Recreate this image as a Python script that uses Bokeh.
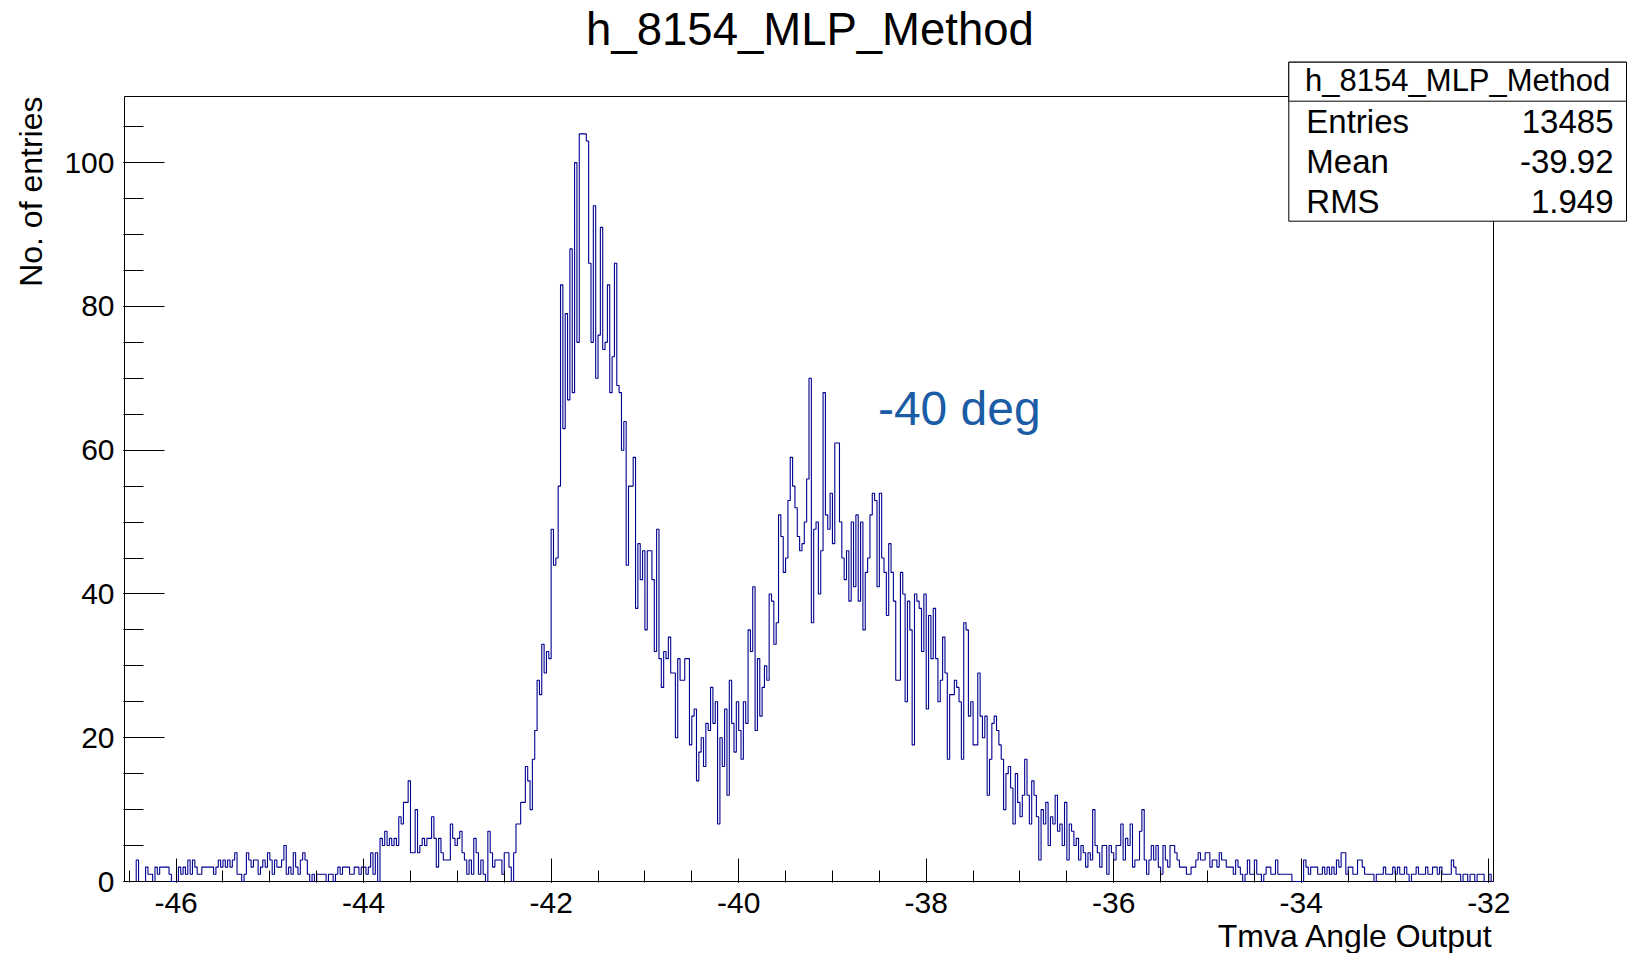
import math
import numpy as np
from bokeh.plotting import figure
from bokeh.models import (Label, BoxAnnotation, FixedTicker, Range1d, Title,
                          CustomJSTickFormatter)
from bokeh.embed import file_html
from bokeh.resources import INLINE

# ---------------- data ----------------
hist_title = "h_8154_MLP_Method"
x_label = "Tmva Angle Output"
y_label = "No. of entries"
note_text = "-40 deg"
stat_names = ["Entries", "Mean", "RMS"]
stat_values = ["13485", "-39.92", "1.949"]
x_major_ticks = [-46, -44, -42, -40, -38, -36, -34, -32]
y_major_ticks = [0, 20, 40, 60, 80, 100]

x_first_edge = -46.55
bin_width = 0.025

# counts per bin, grouped by x interval
counts_head = [0, 0, 0, 0, 0, 3, 0, 0, 0, 2, 1, 1, 0, 2, 1, 2, 2, 2, 2, 1, 0, 0]          # -46.55 .. -46
counts_m46 = [0, 2, 1, 2, 1, 3, 1, 3, 2, 1, 1, 2, 2, 2, 2, 2, 1, 2, 3, 2,
              3, 2, 3, 2, 3, 4, 1, 1, 0, 1, 4, 3, 2, 3, 3, 1, 2, 3, 2, 4]
counts_m45 = [3, 1, 3, 2, 2, 3, 5, 1, 2, 1, 4, 2, 1, 3, 4, 3, 1, 0, 1, 0,
              1, 1, 1, 1, 0, 1, 1, 0, 1, 2, 1, 2, 2, 2, 1, 1, 2, 2, 1, 2]
counts_m44 = [2, 1, 2, 4, 1, 4, 0, 6, 5, 7, 5, 6, 5, 6, 5, 9, 8, 11, 11, 14,
              4, 4, 10, 4, 5, 6, 5, 6, 6, 9, 6, 2, 6, 4, 3, 3, 3, 8, 6, 5]
counts_m43 = [6, 7, 4, 3, 1, 3, 1, 6, 4, 1, 3, 1, 0, 7, 4, 2, 3, 3, 3, 1,
              4, 4, 2, 0, 4, 8, 8, 11, 11, 16, 14, 10, 17, 21, 28, 26, 33, 29, 32, 31]
counts_m42 = [49, 44, 45, 55, 83, 63, 79, 67, 88, 68, 100, 75, 104, 104, 104, 103, 86, 75, 94, 70,
              76, 91, 74, 75, 83, 68, 73, 86, 69, 68, 60, 64, 44, 55, 55, 59, 38, 47, 42, 46]
counts_m41 = [35, 46, 46, 42, 32, 49, 31, 27, 32, 31, 34, 29, 29, 20, 31, 28, 28, 31, 31, 19,
              23, 24, 14, 18, 20, 16, 22, 21, 27, 22, 25, 8, 20, 16, 24, 12, 28, 22, 18, 25]
counts_m40 = [21, 17, 25, 22, 35, 32, 41, 21, 31, 23, 27, 30, 28, 40, 39, 33, 36, 51, 48, 43,
              45, 53, 59, 55, 52, 48, 46, 47, 50, 56, 70, 36, 49, 50, 40, 46, 68, 51, 49, 54]
counts_m39 = [47, 61, 61, 50, 45, 42, 46, 39, 50, 41, 51, 39, 50, 35, 43, 45, 51, 54, 53, 41,
              54, 45, 43, 37, 47, 43, 39, 28, 28, 43, 40, 25, 39, 35, 19, 40, 39, 38, 32, 40]
counts_m38 = [24, 37, 31, 38, 31, 25, 28, 34, 29, 17, 26, 26, 28, 27, 25, 17, 36, 35, 23, 25,
              19, 19, 29, 23, 20, 23, 12, 17, 22, 23, 21, 19, 17, 10, 15, 16, 13, 8, 15, 11]
counts_m37 = [9, 12, 17, 12, 8, 14, 12, 9, 3, 10, 8, 11, 5, 9, 8, 12, 7, 8, 5, 11,
              3, 8, 7, 5, 6, 3, 5, 4, 2, 4, 3, 10, 5, 4, 2, 5, 5, 1, 5, 4]
counts_m36 = [3, 5, 5, 8, 3, 6, 5, 8, 2, 3, 3, 7, 10, 3, 1, 3, 5, 3, 5, 2,
              1, 5, 3, 2, 5, 5, 4, 3, 2, 2, 2, 1, 1, 2, 2, 3, 4, 3, 3, 4]
counts_m35 = [4, 2, 3, 3, 2, 4, 3, 3, 2, 2, 2, 1, 3, 2, 1, 0, 1, 3, 1, 1,
              3, 1, 1, 0, 1, 2, 2, 1, 1, 3, 1, 1, 1, 1, 1, 1, 0, 0, 0, 0]
counts_m34 = [0, 3, 2, 1, 2, 2, 2, 1, 1, 2, 1, 2, 1, 2, 1, 3, 2, 4, 4, 1,
              2, 2, 1, 1, 3, 3, 2, 1, 1, 1, 1, 0, 1, 1, 1, 2, 1, 1, 1, 2]
counts_m33 = [1, 2, 1, 1, 2, 1, 0, 1, 1, 2, 1, 1, 1, 2, 1, 1, 2, 2, 1, 2,
              1, 1, 1, 1, 3, 2, 1, 1, 0, 1, 1, 0, 1, 1, 0, 1, 1, 1, 0, 0]
counts_tail = [1, 0]                                                                        # -32 .. -31.95

counts = np.array(counts_head + counts_m46 + counts_m45 + counts_m44 + counts_m43 + counts_m42 +
                  counts_m41 + counts_m40 + counts_m39 + counts_m38 + counts_m37 + counts_m36 +
                  counts_m35 + counts_m34 + counts_m33 + counts_tail, dtype=float)
edges = x_first_edge + bin_width * np.arange(len(counts) + 1)
x_lo, x_hi = edges[0], edges[-1]
y_hi = 1.05 * counts.max()

# ---------------- layout (page pixels) ----------------
W, H = 1632, 953
BOX_L, BOX_R, BOX_T, BOX_B = 124, 1493, 96, 881        # visible axes box
FR_L, FR_B = BOX_L - 1, BOX_B + 1                       # bokeh frame: left, bottom (frame spans to top/right edge)
px_x = (BOX_R - BOX_L) / (x_hi - x_lo)
px_y = (BOX_B - BOX_T) / y_hi
x_start = x_lo - (BOX_L - FR_L) / px_x
y_start = -(FR_B - BOX_B) / px_y
frame_w, frame_h = W - FR_L, FR_B

FONT = "Liberation Sans"
LINE = "#00008f"

p = figure(frame_width=frame_w, frame_height=frame_h, output_backend="svg", toolbar_location=None,
           x_range=Range1d(x_start, x_start + frame_w / px_x),
           y_range=Range1d(y_start, y_start + frame_h / px_y),
           min_border_left=FR_L, min_border_right=0, min_border_top=0, min_border_bottom=H - FR_B)
p.background_fill_color = "white"
p.border_fill_color = "white"
p.outline_line_color = None
p.xgrid.visible = False
p.ygrid.visible = False

# visible axes box
p.add_layout(BoxAnnotation(left=x_lo, right=x_hi, bottom=0, top=y_hi, fill_color=None,
                           line_color="black", line_alpha=1.0, line_width=1, level="underlay"))

p.step(x=edges, y=np.append(counts, counts[-1]), mode="after", line_color=LINE, line_width=1.1)

fmt = CustomJSTickFormatter(code="return tick.toFixed(0)")
xa = p.xaxis[0]
xa.ticker = FixedTicker(ticks=x_major_ticks,
                        minor_ticks=list(np.arange(x_major_ticks[0] - 0.5, x_major_ticks[-1] + 0.01, 0.5)))
xa.major_tick_in = 24
xa.minor_tick_in = 12
xa.major_label_standoff = 10
ya = p.yaxis[0]
ya.ticker = FixedTicker(ticks=y_major_ticks,
                        minor_ticks=list(np.arange(0, y_major_ticks[-1] + 5.01, 5)))
ya.major_tick_in = 41
ya.minor_tick_in = 20
ya.major_label_standoff = 9
for ax in (xa, ya):
    ax.formatter = fmt
    ax.axis_line_color = None
    ax.major_tick_out = 0
    ax.minor_tick_out = 0
    ax.major_tick_line_color = "black"
    ax.minor_tick_line_color = "black"
    ax.major_label_text_font = FONT
    ax.major_label_text_font_size = "30px"
    ax.major_label_text_color = "black"

# axis titles as side panels
p.add_layout(Title(text=y_label, align="right", vertical_align="top", offset=BOX_T, standoff=22,
                   text_font=FONT, text_font_size="32px", text_font_style="normal",
                   text_color="black"), "left")
p.add_layout(Title(text=x_label, align="right", offset=W - BOX_R, standoff=0, text_font=FONT,
                   text_font_size="32px", text_font_style="normal", text_color="black"), "below")

# ---------------- texts inside the (extended) frame ----------------
def add_text(text, page_x, page_y, size, align="left", color="black"):
    # page_y is the vertical middle of the capital letters
    p.add_layout(Label(x=page_x - FR_L, y=FR_B - page_y, x_units="screen", y_units="screen",
                       text=text, text_font=FONT, text_font_size=size, text_color=color,
                       text_align=align, text_baseline="middle"))

add_text(hist_title, 809.5, 28.5, "45.5px", align="center")
add_text(note_text, 877.4, 407.8, "48px", color="#1a5ca5")

# stats box (page pixels)
sb_l, sb_r, sb_t, sb_sep, sb_b = 1288.3, 1626.0, 61.7, 100.7, 220.7
for bottom in (sb_b, sb_sep):
    p.add_layout(BoxAnnotation(left=sb_l - FR_L, right=sb_r - FR_L, top=FR_B - sb_t, bottom=FR_B - bottom,
                               left_units="screen", right_units="screen",
                               top_units="screen", bottom_units="screen",
                               fill_color="white", fill_alpha=1.0, line_color="black",
                               line_alpha=1.0, line_width=1, level="annotation"))
add_text(hist_title, (sb_l + sb_r) / 2, 79.5, "31px", align="center")
row_h = (sb_b - sb_sep) / len(stat_names)
for i, (name, val) in enumerate(zip(stat_names, stat_values)):
    mid = sb_sep + row_h * (i + 0.5) + 0.5
    add_text(name, sb_l + 17.5, mid, "33px", align="left")
    add_text(val, sb_r - 13, mid, "33px", align="right")

open("out.html", "w").write(file_html(p, INLINE))
